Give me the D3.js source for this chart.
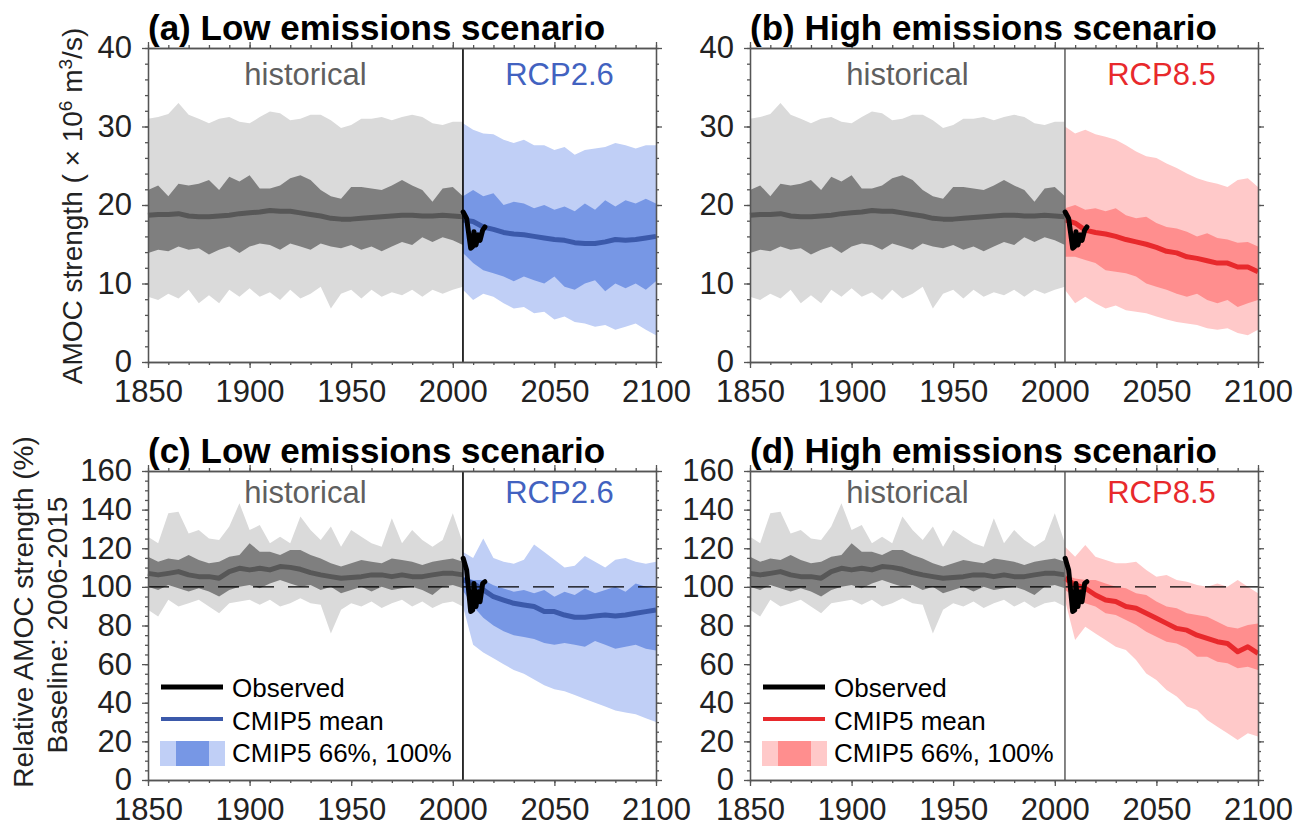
<!DOCTYPE html>
<html>
<head>
<meta charset="utf-8">
<script src="https://cdn.jsdelivr.net/npm/d3@7"></script>
<style>
  body { margin: 0; background: #fff; }
</style>
</head>
<body>
<div id="chart"></div>
<script>
// ---- data ----
const histYears = [1850,1855,1860,1865,1870,1875,1880,1885,1890,1895,1900,1905,1910,1915,1920,1925,
                   1930,1935,1940,1945,1950,1955,1960,1965,1970,1975,1980,1985,1990,1995,2000,2005];
const futYears = [2005,2010,2015,2020,2025,2030,2035,2040,2045,2050,2055,2060,2065,2070,2075,2080,2085,2090,2095,2100];

// absolute AMOC strength (Sv), historical CMIP5
const histAbsMean  = [18.7,18.8,18.8,18.9,18.6,18.5,18.5,18.6,18.7,18.9,19.0,19.1,19.3,19.2,19.2,19.0,18.8,18.6,18.3,18.2,18.2,18.3,18.4,18.5,18.6,18.7,18.7,18.6,18.6,18.7,18.6,18.5];
const histAbsHi66  = [21.9,22.5,21.1,22.7,22.5,22.7,23.2,21.9,23.6,23.0,23.8,22.1,22.1,22.5,23.4,23.8,23.2,21.9,21.1,20.8,22.3,22.3,22.1,21.9,22.5,23.2,22.5,21.9,20.4,22.1,22.3,21.1];
const histAbsLo66  = [13.9,14.3,14.1,14.7,14.3,14.5,13.7,14.3,14.7,13.9,14.7,15.1,14.9,14.3,15.1,14.7,14.3,15.1,14.7,14.5,14.9,14.3,14.7,14.1,14.7,15.3,14.9,15.9,15.3,15.9,15.5,14.9];
const histAbsHi100 = [31.0,31.2,31.6,33.0,31.5,31.0,30.4,31.0,31.2,30.6,30.4,31.2,31.9,31.7,30.8,31.0,31.5,31.5,30.8,29.8,30.2,31.0,31.0,31.2,30.8,31.2,31.5,31.2,30.4,30.2,30.6,30.6];
const histAbsLo100 = [8.3,7.9,8.7,8.1,9.2,7.5,8.5,7.5,9.2,8.3,9.4,8.3,8.9,7.9,9.2,8.1,8.7,9.6,6.8,8.7,9.2,8.1,9.2,8.3,8.9,8.5,9.2,8.3,9.2,8.7,9.2,9.6];

// absolute, RCP2.6
const rcp26AbsMean  = [18.1,17.9,17.2,16.9,16.5,16.3,16.2,16.0,15.8,15.6,15.5,15.2,15.1,15.1,15.3,15.6,15.5,15.6,15.8,16.0];
const rcp26AbsHi66  = [21.1,21.9,21.1,21.5,20.0,20.4,20.2,19.6,20.0,19.4,19.8,19.2,20.2,19.4,20.6,19.8,20.6,20.2,20.8,20.2];
const rcp26AbsLo66  = [13.9,12.6,11.7,11.3,10.9,10.3,10.9,10.4,10.0,10.9,9.6,9.2,10.0,10.4,9.0,10.0,9.4,10.0,9.2,10.3];
const rcp26AbsHi100 = [30.4,29.6,29.1,29.0,28.3,27.9,28.3,27.6,27.6,27.0,27.4,26.4,27.0,27.2,27.4,27.9,27.6,27.2,27.6,27.6];
const rcp26AbsLo100 = [9.2,7.9,8.7,8.3,7.5,6.8,7.0,6.2,6.4,5.4,5.8,5.1,4.9,4.5,4.7,4.1,4.5,4.9,4.1,3.4];

// absolute, RCP8.5
const rcp85AbsMean  = [18.1,17.7,16.8,16.5,16.3,16.0,15.6,15.3,15.0,14.6,14.1,13.9,13.4,13.2,12.9,12.6,12.6,12.1,12.1,11.5];
const rcp85AbsHi66  = [19.6,20.0,19.4,19.6,19.2,19.6,18.7,18.3,18.5,17.7,17.2,17.0,16.6,16.0,16.4,15.8,15.6,15.2,15.3,14.7];
const rcp85AbsLo66  = [13.4,13.4,13.0,12.6,11.7,11.5,11.3,10.9,10.0,9.6,9.2,8.7,8.3,8.7,7.9,7.5,7.9,7.0,7.5,7.9];
const rcp85AbsHi100 = [30.0,29.1,29.6,29.0,28.7,28.3,27.6,26.8,26.2,26.0,25.3,24.7,24.0,23.4,23.0,22.7,22.3,23.2,23.4,22.3];
const rcp85AbsLo100 = [9.2,7.5,8.3,7.5,6.8,7.2,6.6,6.4,6.2,5.8,5.4,5.1,4.9,4.7,4.3,4.1,4.3,3.7,3.4,4.1];

// relative (%), historical
const histRelMean  = [107.0,106.2,107.0,107.9,106.2,105.3,105.3,104.5,107.9,109.6,108.8,109.6,108.8,110.5,110.1,109.1,107.4,106.2,105.3,104.5,104.9,105.3,106.2,106.2,105.3,106.2,105.3,105.3,106.2,107.0,107.0,106.2];
const histRelHi66  = [115.6,113.0,114.7,113.9,116.5,113.9,112.2,113.0,115.6,116.5,122.6,118.2,118.2,116.5,119.1,119.1,116.5,114.7,112.2,110.5,112.2,113.9,113.0,112.2,114.7,113.9,113.0,111.3,113.0,113.9,114.7,113.0];
const histRelLo66  = [100.1,98.4,101.0,99.3,97.6,99.3,97.6,95.0,98.4,100.1,101.0,99.3,101.8,103.6,101.8,100.1,101.0,98.4,100.1,96.7,98.4,100.1,97.6,100.1,98.4,99.3,100.1,98.4,95.8,100.1,101.0,99.3];
const histRelHi100 = [126.0,122.6,138.1,138.9,127.7,129.4,125.1,124.3,131.2,143.3,129.4,132.0,122.6,126.0,122.6,136.4,129.4,124.3,131.2,120.8,129.4,126.0,122.6,120.8,135.5,122.6,129.4,124.3,120.8,124.3,138.1,122.6];
const histRelLo100 = [88.1,84.7,93.3,89.8,91.5,93.3,89.8,86.4,91.5,92.4,93.3,90.7,93.3,89.8,91.5,94.1,91.5,90.7,75.9,88.1,91.5,89.8,92.4,89.0,91.5,93.3,89.8,92.4,89.0,91.5,92.4,89.8];

// relative, RCP2.6
const rcp26RelMean  = [103.6,101.8,98.4,94.9,93.2,91.5,90.6,89.8,87.2,87.2,85.4,84.3,84.3,84.9,85.4,84.9,85.4,86.3,87.2,88.0];
const rcp26RelHi66  = [105.3,103.6,103.6,100.9,99.2,97.5,98.4,96.7,98.4,94.9,97.5,95.8,99.2,96.7,98.4,100.1,97.5,101.8,100.1,99.2];
const rcp26RelLo66  = [98,90,84,80,77,75,74,73,71,70,71,70,69,72,70,68,69,70,68,67];
const rcp26RelHi100 = [118,115,125,115,113,112,114,122,118,114,110,111,116,113,110,114,115,113,112,113];
const rcp26RelLo100 = [90,70,66,63,60,57,55,52,49,47,46,44,42,40,38,36,35,34,32,30];

// relative, RCP8.5
const rcp85RelMean  = [104.4,101.0,99.3,95.8,93.2,92.4,89.8,88.9,86.3,83.7,81.1,78.5,77.6,75.0,73.3,71.6,70.7,66.4,69.0,65.6];
const rcp85RelHi66  = [106.1,104.4,103.6,103.6,101.8,100.1,99.3,96.7,95.8,92.4,89.8,88.9,86.3,85.4,84.5,81.9,79.3,78.5,80.2,81.1];
const rcp85RelLo66  = [98.4,94.9,91.5,89.8,86.3,85.4,82.8,80.2,76.7,74.2,71.6,70.7,68.1,63.8,63.8,61.2,60.4,57.8,58.7,57.0];
const rcp85RelHi100 = [120.8,115.6,121.7,115.6,113.9,112.2,112.2,113.0,108.8,105.3,106.1,103.6,102.7,101.0,100.1,101.8,100.1,103.6,100.1,96.7];
const rcp85RelLo100 = [93.2,72.5,79.3,75.9,72.5,69.0,67.3,62.1,55.2,51.8,46.6,43.2,38.0,36.3,31.1,27.6,24.2,20.7,24.2,22.5];

// observed (RAPID array)
const obsYears = [2005.1,2006.8,2008.8,2009.8,2010.4,2011.4,2012.5,2013.4,2014.7,2015.8];
const obsAbs   = [19.1,18.3,14.5,14.7,16.6,14.9,16.2,15.5,16.8,17.2];
const obsRel   = [114.8,108.8,87.2,88.0,101.8,89.8,97.5,92.3,101.8,102.7];

const xTicks = [1850,1900,1950,2000,2050,2100];
const yTicksAbs = [0,10,20,30,40];
const yTicksRel = [0,20,40,60,80,100,120,140,160];

// ---- styling ----
const FONT = "'Liberation Sans', Arial, Helvetica, sans-serif";
const grayLight = "#dadada", grayDark = "#7f7f7f", grayMean = "#575757";
const blue = { light: "#c0cff6", dark: "#7797e5", mean: "#3b59aa", text: "#4262c0" };
const red  = { light: "#ffc9c9", dark: "#ff8e8e", mean: "#e8292c", text: "#e8292c" };

const svg = d3.select("#chart").append("svg")
  .attr("width", 1306)
  .attr("height", 829)
  .style("font-family", FONT);

const panels = [
  { title: "(a) Low emissions scenario",  left: 148, right: 656, top: 48,  bottom: 362, rel: false, sc: blue, rcp: "RCP2.6", div: "#000",
    fut: [rcp26AbsMean, rcp26AbsLo66, rcp26AbsHi66, rcp26AbsLo100, rcp26AbsHi100] },
  { title: "(b) High emissions scenario", left: 750, right: 1258, top: 48, bottom: 362, rel: false, sc: red, rcp: "RCP8.5", div: "#666",
    fut: [rcp85AbsMean, rcp85AbsLo66, rcp85AbsHi66, rcp85AbsLo100, rcp85AbsHi100] },
  { title: "(c) Low emissions scenario",  left: 148, right: 656, top: 471, bottom: 780, rel: true, sc: blue, rcp: "RCP2.6", div: "#000",
    fut: [rcp26RelMean, rcp26RelLo66, rcp26RelHi66, rcp26RelLo100, rcp26RelHi100] },
  { title: "(d) High emissions scenario", left: 750, right: 1258, top: 471, bottom: 780, rel: true, sc: red, rcp: "RCP8.5", div: "#666",
    fut: [rcp85RelMean, rcp85RelLo66, rcp85RelHi66, rcp85RelLo100, rcp85RelHi100] }
];

function drawPanel(p) {
  const x = d3.scaleLinear().domain([1850, 2100]).range([p.left, p.right]);
  const y = d3.scaleLinear().domain(p.rel ? [0, 160] : [0, 40]).range([p.bottom, p.top]);
  const g = svg.append("g");

  const hist = p.rel ? [histRelMean, histRelLo66, histRelHi66, histRelLo100, histRelHi100]
                     : [histAbsMean, histAbsLo66, histAbsHi66, histAbsLo100, histAbsHi100];

  const band = (yrs, lo, hi) => d3.area()
    .x((d, i) => x(yrs[i])).y0((d, i) => y(lo[i])).y1((d, i) => y(hi[i]))(yrs);
  const line = (yrs, v) => d3.line().x((d, i) => x(yrs[i])).y((d, i) => y(v[i]))(yrs);

  // historical bands + mean
  g.append("path").attr("d", band(histYears, hist[3], hist[4])).attr("fill", grayLight);
  g.append("path").attr("d", band(histYears, hist[1], hist[2])).attr("fill", grayDark);
  g.append("path").attr("d", line(histYears, hist[0])).attr("fill", "none")
    .attr("stroke", grayMean).attr("stroke-width", 5).attr("stroke-linejoin", "round");

  // scenario bands + mean
  g.append("path").attr("d", band(futYears, p.fut[3], p.fut[4])).attr("fill", p.sc.light);
  g.append("path").attr("d", band(futYears, p.fut[1], p.fut[2])).attr("fill", p.sc.dark);
  g.append("path").attr("d", line(futYears, p.fut[0])).attr("fill", "none")
    .attr("stroke", p.sc.mean).attr("stroke-width", 5).attr("stroke-linejoin", "round");

  // 100% baseline
  if (p.rel) {
    g.append("line")
      .attr("x1", x(1850)).attr("x2", x(2100))
      .attr("y1", y(100)).attr("y2", y(100))
      .attr("stroke", "#000").attr("stroke-width", 1.3)
      .attr("stroke-dasharray", "21,14");
  }

  // historical / scenario divider
  g.append("line")
    .attr("x1", x(2005)).attr("x2", x(2005))
    .attr("y1", p.top).attr("y2", p.bottom)
    .attr("stroke", p.div).attr("stroke-width", 1.6);

  // observations
  g.append("path").attr("d", line(obsYears, p.rel ? obsRel : obsAbs))
    .attr("fill", "none").attr("stroke", "#000").attr("stroke-width", 5)
    .attr("stroke-linejoin", "round").attr("stroke-linecap", "round");

  // axes: majors with labels, minors without
  const yMinor = p.rel ? d3.range(0, 161, 5) : d3.range(0, 41, 2);
  const xMinor = d3.range(1850, 2101, 10);
  const yTicks = p.rel ? yTicksRel : yTicksAbs;

  const axes = [
    [d3.axisBottom(x).tickValues(xTicks).tickSize(6).tickPadding(12).tickFormat(d3.format("d")), `translate(0,${p.bottom})`],
    [d3.axisBottom(x).tickValues(xMinor).tickSize(3).tickFormat(""), `translate(0,${p.bottom})`],
    [d3.axisTop(x).tickValues(xTicks).tickSize(6).tickFormat(""), `translate(0,${p.top})`],
    [d3.axisTop(x).tickValues(xMinor).tickSize(3).tickFormat(""), `translate(0,${p.top})`],
    [d3.axisLeft(y).tickValues(yTicks).tickSize(6).tickPadding(10), `translate(${p.left},0)`],
    [d3.axisLeft(y).tickValues(yMinor).tickSize(3).tickFormat(""), `translate(${p.left},0)`],
    [d3.axisRight(y).tickValues(yTicks).tickSize(6).tickFormat(""), `translate(${p.right},0)`],
    [d3.axisRight(y).tickValues(yMinor).tickSize(3).tickFormat(""), `translate(${p.right},0)`]
  ];
  axes.forEach(([ax, tr]) => {
    const a = g.append("g").attr("transform", tr).call(ax.tickSizeOuter(0));
    a.select(".domain").attr("stroke", "#555").attr("stroke-width", 1.3);
    a.selectAll(".tick line").attr("stroke", "#555").attr("stroke-width", 1.3);
    a.selectAll(".tick text").attr("fill", "#222").style("font-size", "31px").style("font-family", FONT);
  });

  // titles and period labels
  g.append("text").attr("x", p.left).attr("y", p.top - 8)
    .attr("font-size", 35).attr("font-weight", "bold").attr("fill", "#000").text(p.title);
  const lblY = p.rel ? y(143.5) : y(35.3);
  g.append("text").attr("x", x(1927.5)).attr("y", lblY).attr("text-anchor", "middle")
    .attr("font-size", 31).attr("fill", "#5f5f5f").text("historical");
  g.append("text").attr("x", x(2052.5)).attr("y", lblY).attr("text-anchor", "middle")
    .attr("font-size", 31).attr("fill", p.sc.text).text(p.rcp);

  // legend in the lower panels
  if (p.rel) {
    const lx = p.left + 12;
    g.append("line").attr("x1", lx + 1).attr("x2", lx + 63).attr("y1", 687).attr("y2", 687)
      .attr("stroke", "#000").attr("stroke-width", 5);
    g.append("line").attr("x1", lx + 1).attr("x2", lx + 63).attr("y1", 719).attr("y2", 719)
      .attr("stroke", p.sc.mean).attr("stroke-width", 4);
    g.append("rect").attr("x", lx).attr("y", 741).attr("width", 65).attr("height", 25).attr("fill", p.sc.light);
    g.append("rect").attr("x", lx + 16).attr("y", 741).attr("width", 33).attr("height", 25).attr("fill", p.sc.dark);
    [["Observed", 697], ["CMIP5 mean", 730], ["CMIP5 66%, 100%", 762]].forEach(([t, ty]) => {
      g.append("text").attr("x", lx + 72).attr("y", ty).attr("font-size", 26).attr("fill", "#000").text(t);
    });
  }
}

panels.forEach(drawPanel);

// y-axis titles
const ylab1 = svg.append("text")
  .attr("transform", "translate(82,206) rotate(-90)")
  .attr("text-anchor", "middle").attr("font-size", 28).attr("fill", "#222");
ylab1.append("tspan").text("AMOC strength ( \u00d7 10");
ylab1.append("tspan").attr("baseline-shift", "super").attr("font-size", 19).text("6");
ylab1.append("tspan").text(" m");
ylab1.append("tspan").attr("baseline-shift", "super").attr("font-size", 19).text("3");
ylab1.append("tspan").text("/s)");

svg.append("text")
  .attr("transform", "translate(33,612) rotate(-90)")
  .attr("text-anchor", "middle").attr("font-size", 28).attr("fill", "#222")
  .text("Relative AMOC strength (%)");
svg.append("text")
  .attr("transform", "translate(67,625) rotate(-90)")
  .attr("text-anchor", "middle").attr("font-size", 28).attr("fill", "#222")
  .text("Baseline: 2006-2015");
</script>
</body>
</html>
